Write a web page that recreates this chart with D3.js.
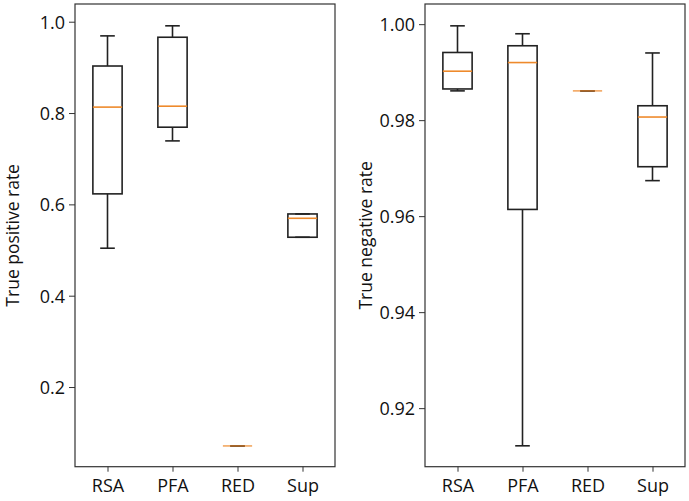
<!DOCTYPE html>
<html><head><meta charset="utf-8">
<script src="https://cdn.jsdelivr.net/npm/d3@7"></script>
<style>body{margin:0;background:#fff}svg{display:block}text{font-family:"Open Sans",sans-serif;fill:#111}</style>
</head><body><svg id="c" width="689" height="501"></svg>
<script>
const categories = ["RSA", "PFA", "RED", "Sup"];
// [whiskerLow, Q1, median, Q3, whiskerHigh]
const tprStats = [
  [0.504, 0.623, 0.813, 0.903, 0.969],
  [0.739, 0.769, 0.815, 0.966, 0.991],
  [0.071, 0.071, 0.071, 0.071, 0.071],
  [0.528, 0.528, 0.5695, 0.579, 0.579]
];
const tnrStats = [
  [0.9861, 0.9865, 0.9902, 0.9941, 0.99965],
  [0.91215, 0.9614, 0.9920, 0.9955, 0.9980],
  [0.9861, 0.9861, 0.9861, 0.9861, 0.9861],
  [0.9674, 0.9703, 0.98065, 0.9830, 0.9940]
];
const tprTicks = [0.2, 0.4, 0.6, 0.8, 1.0];
const tnrTicks = [0.92, 0.94, 0.96, 0.98, 1.00];
const tprDomain = [0.0255, 1.0388];
const tnrDomain = [0.9078, 1.0042];

const svg = d3.select("#c");
const plotTop = 4, plotBottom = 466.7;

function panel(x0, x1, stats, ticks, domain, fmt, label, labelX) {
  const g = svg.append("g");
  const x = d3.scaleLinear().domain([0.5, 4.5]).range([x0, x1]);
  const y = d3.scaleLinear().domain(domain).range([plotBottom, plotTop]);
  const bw = 0.45, cw = 0.225;
  const stroke = "#222", sw = 1.6;
  stats.forEach((s, i) => {
    const p = i + 1;
    const [lo, q1, med, q3, hi] = s;
    g.append("line").attr("x1", x(p)).attr("x2", x(p)).attr("y1", y(q3)).attr("y2", y(hi)).attr("stroke", stroke).attr("stroke-width", sw);
    g.append("line").attr("x1", x(p)).attr("x2", x(p)).attr("y1", y(q1)).attr("y2", y(lo)).attr("stroke", stroke).attr("stroke-width", sw);
    [lo, hi].forEach(v => g.append("line").attr("x1", x(p - cw / 2)).attr("x2", x(p + cw / 2)).attr("y1", y(v)).attr("y2", y(v)).attr("stroke", stroke).attr("stroke-width", sw));
    g.append("rect").attr("x", x(p - bw / 2)).attr("width", x(p + bw / 2) - x(p - bw / 2))
      .attr("y", y(q3)).attr("height", Math.max(0, y(q1) - y(q3)))
      .attr("fill", "none").attr("stroke", stroke).attr("stroke-width", sw);
    g.append("line").attr("x1", x(p - bw / 2)).attr("x2", x(p + bw / 2)).attr("y1", y(med)).attr("y2", y(med))
      .attr("stroke", "#ee8a2c").attr("stroke-width", sw).attr("stroke-opacity", q1 === q3 ? 0.75 : 1);
  });
  g.append("rect").attr("x", x0).attr("y", plotTop).attr("width", x1 - x0).attr("height", plotBottom - plotTop)
    .attr("fill", "none").attr("stroke", "#333").attr("stroke-width", 1.2);
  const ya = g.append("g").attr("transform", `translate(${x0},0)`)
    .call(d3.axisLeft(y).tickValues(ticks).tickFormat(fmt).tickSize(6).tickPadding(4));
  ya.select(".domain").remove();
  ya.selectAll("line").attr("stroke", "#333");
  ya.selectAll("text").style("font-size", "18px").attr("dy", "0.36em");
  const xa = g.append("g").attr("transform", `translate(0,${plotBottom})`)
    .call(d3.axisBottom(x).tickValues([1, 2, 3, 4]).tickFormat((d, i) => categories[i]).tickSize(5).tickPadding(8));
  xa.select(".domain").remove();
  xa.selectAll("line").attr("stroke", "#333");
  xa.selectAll("text").style("font-size", "18px");
  g.append("text").attr("transform", `translate(${labelX},${(plotTop + plotBottom) / 2}) rotate(-90)`)
    .attr("text-anchor", "middle").attr("dy", "0.35em").style("font-size", "17.5px").text(label);
}

panel(75, 335, tprStats, tprTicks, tprDomain, d3.format(".1f"), "True positive rate", 13);
panel(425, 685, tnrStats, tnrTicks, tnrDomain, d3.format(".2f"), "True negative rate", 366);
</script></body></html>
